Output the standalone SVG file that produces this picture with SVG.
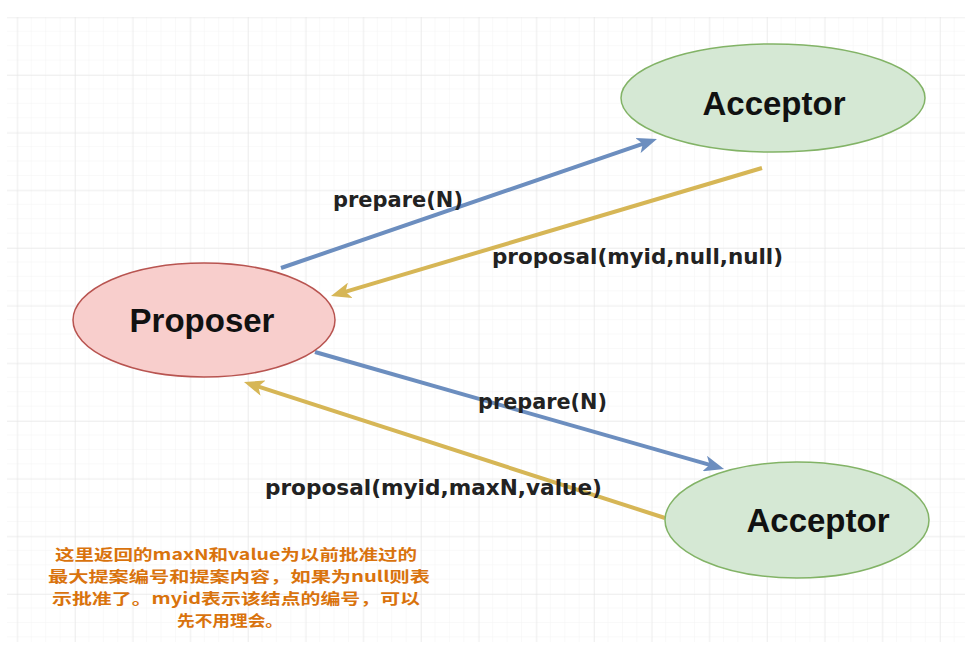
<svg xmlns="http://www.w3.org/2000/svg" width="973" height="650" viewBox="0 0 973 650">
  <defs>
    <pattern id="minor" x="17.3" y="17.3" width="14.42" height="14.42" patternUnits="userSpaceOnUse">
      <path d="M14.42,0 V14.42 M0,14.42 H14.42" fill="none" stroke="#f3f3f3" stroke-width="1"/>
    </pattern>
    <pattern id="major" x="17.3" y="17.3" width="57.67" height="57.67" patternUnits="userSpaceOnUse">
      <path d="M0,0 V57.67 M0,0 H57.67" fill="none" stroke="#e4e4e4" stroke-width="1"/>
    </pattern>
    <marker id="head-blue" viewBox="0 0 20 16" refX="8" refY="8" markerWidth="20" markerHeight="16" markerUnits="userSpaceOnUse" orient="auto">
      <path d="M0,0 L20,8 L0,16 L5,8 z" fill="#6c8ebf"/>
    </marker>
    <marker id="head-yellow" viewBox="0 0 20 16" refX="8" refY="8" markerWidth="20" markerHeight="16" markerUnits="userSpaceOnUse" orient="auto">
      <path d="M0,0 L20,8 L0,16 L5,8 z" fill="#d6b656"/>
    </marker>
  </defs>
  <style>
    .node-green { fill: #d5e8d4; stroke: #82b366; stroke-width: 1.5; }
    .node-red { fill: #f8cecc; stroke: #b85450; stroke-width: 1.5; }
    .node-label { font-family: "Liberation Sans", Arial, sans-serif; font-weight: bold; font-size: 33px; fill: #111; text-anchor: middle; }
    .edge-label { font-family: "DejaVu Sans", sans-serif; font-weight: bold; font-size: 21px; fill: #222; }
    .blue { fill: none; stroke: #6c8ebf; stroke-width: 4; marker-end: url(#head-blue); }
    .yellow { fill: none; stroke: #d6b656; stroke-width: 4; marker-end: url(#head-yellow); }
    .note { font-family: "Noto Sans CJK SC", "Noto Sans", sans-serif; font-weight: bold; font-size: 15px; fill: #d9730d; text-anchor: middle; }
  </style>

  <!-- background grid -->
  <rect width="973" height="650" fill="#ffffff"/>
  <rect x="7" y="17" width="958" height="625" fill="url(#minor)"/>
  <rect x="7" y="17" width="958" height="625" fill="url(#major)"/>

  <!-- connectors -->
  <g id="connectors">
    <line class="blue" x1="281" y1="268" x2="645.6" y2="142.9"/>
    <line class="yellow" x1="762" y1="168" x2="342.5" y2="292.6"/>
    <line class="blue" x1="315" y1="352" x2="712.5" y2="465.7"/>
    <line class="yellow" x1="665" y1="518" x2="255.4" y2="385.7"/>
    <text class="edge-label" x="333" y="207" textLength="130" lengthAdjust="spacingAndGlyphs">prepare(N)</text>
    <text class="edge-label" x="492" y="264" textLength="291" lengthAdjust="spacingAndGlyphs">proposal(myid,null,null)</text>
    <text class="edge-label" x="478" y="409" textLength="129" lengthAdjust="spacingAndGlyphs">prepare(N)</text>
    <text class="edge-label" x="265" y="495" textLength="337" lengthAdjust="spacingAndGlyphs">proposal(myid,maxN,value)</text>
  </g>

  <!-- nodes -->
  <g id="acceptor-top">
    <ellipse class="node-green" cx="773" cy="98" rx="152" ry="54"/>
    <text class="node-label" x="774" y="115">Acceptor</text>
  </g>
  <g id="proposer">
    <ellipse class="node-red" cx="204" cy="320" rx="131" ry="57"/>
    <text class="node-label" x="202" y="332">Proposer</text>
  </g>
  <g id="acceptor-bottom">
    <ellipse class="node-green" cx="797" cy="520" rx="132" ry="58"/>
    <text class="node-label" x="818" y="532">Acceptor</text>
  </g>

  <!-- explanatory note -->
  <g id="note">
    <text class="note" x="236" y="560" textLength="362" lengthAdjust="spacingAndGlyphs">这里返回的maxN和value为以前批准过的</text>
    <text class="note" x="239" y="582" textLength="382" lengthAdjust="spacingAndGlyphs">最大提案编号和提案内容，如果为null则表</text>
    <text class="note" x="236" y="604" textLength="368" lengthAdjust="spacingAndGlyphs">示批准了。myid表示该结点的编号，可以</text>
    <text class="note" x="230" y="626" textLength="106" lengthAdjust="spacingAndGlyphs">先不用理会。</text>
  </g>
</svg>
